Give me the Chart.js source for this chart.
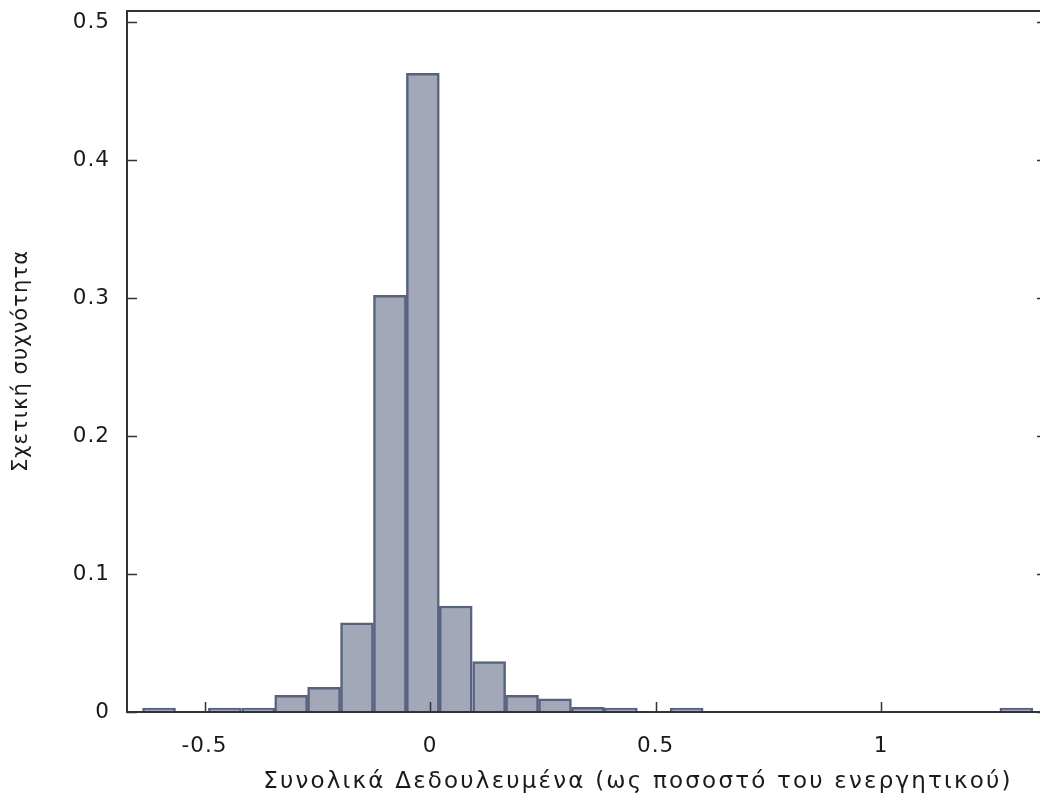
<!DOCTYPE html>
<html>
<head>
<meta charset="utf-8">
<script src="https://cdn.jsdelivr.net/npm/chart.js@4.4.1/dist/chart.umd.min.js"></script>
<style>
  html, body { margin: 0; padding: 0; background: #fff; overflow: hidden; }
  #wrap { width: 1048px; height: 802px; }
</style>
</head>
<body>
<div id="wrap"><canvas id="histChart" width="1048" height="802"></canvas></div>
<script>
// κέντρα κλάσεων (bin centers) και σχετικές συχνότητες
const binCenters = [-0.601, -0.528, -0.455, -0.381, -0.308, -0.235, -0.162, -0.089, -0.016,
    0.057, 0.131, 0.204, 0.277, 0.350, 0.423, 0.496, 0.569, 0.642, 0.715, 0.788, 0.862,
    0.935, 1.008, 1.081, 1.154, 1.227, 1.300];
const relFreq = [0.0028, 0, 0.0028, 0.0028, 0.0121, 0.0179, 0.0647, 0.302, 0.4628,
    0.0768, 0.0365, 0.0121, 0.0096, 0.0033, 0.0028, 0, 0.0028, 0, 0, 0, 0,
    0, 0, 0, 0, 0, 0.0028];
const xTicks = [-0.5, 0, 0.5, 1];
const yTicks = [0, 0.1, 0.2, 0.3, 0.4, 0.5];
const xTitle = 'Συνολικά Δεδουλευμένα (ως ποσοστό του ενεργητικού)';
const yTitle = 'Σχετική συχνότητα';

const FONT = 'DejaVu Sans, Verdana, sans-serif';
Chart.defaults.font.family = FONT;
Chart.defaults.color = '#1a1a1a';

// πλαίσιο, εσωτερικές υποδιαιρέσεις και τίτλοι αξόνων (gnuplot style)
const frameTicks = {
    id: 'frameTicks',
    beforeDraw(chart) {
        chart.ctx.letterSpacing = '1px';
    },
    afterDatasetsDraw(chart) {
        const { ctx, chartArea: a, scales } = chart;
        const len = 10;
        ctx.save();
        ctx.strokeStyle = '#333';
        ctx.lineWidth = 1.5;
        ctx.beginPath();
        yTicks.forEach(v => {
            const y = Math.round(scales.y.getPixelForValue(v)) + 0.5;
            ctx.moveTo(a.left, y); ctx.lineTo(a.left + len, y);
            ctx.moveTo(a.right, y); ctx.lineTo(a.right - len, y);
        });
        xTicks.forEach(v => {
            const x = Math.round(scales.x.getPixelForValue(v)) + 0.5;
            ctx.moveTo(x, a.bottom); ctx.lineTo(x, a.bottom - len);
        });
        ctx.stroke();
        ctx.lineWidth = 2;
        ctx.strokeRect(a.left, a.top, a.right - a.left, a.bottom - a.top);
        ctx.restore();
    },
    afterDraw(chart) {
        const ctx = chart.ctx;
        ctx.save();
        ctx.fillStyle = '#1a1a1a';
        ctx.textAlign = 'center';
        ctx.textBaseline = 'middle';
        ctx.font = '23px ' + FONT;
        ctx.letterSpacing = '2.2px';
        ctx.fillText(xTitle, 638, 782);
        ctx.font = '21px ' + FONT;
        ctx.letterSpacing = '1.1px';
        ctx.translate(22, 361);
        ctx.rotate(-Math.PI / 2);
        ctx.fillText(yTitle, 0, 0);
        ctx.restore();
        ctx.letterSpacing = '0px';
    }
};

const histChart = new Chart(document.getElementById('histChart'), {
    type: 'bar',
    data: {
        datasets: [{
            data: binCenters.map((c, i) => ({ x: c, y: relFreq[i] })),
            backgroundColor: '#a2a8b7',
            borderColor: '#57627f',
            borderWidth: ctx => (ctx.raw && ctx.raw.y > 0 ? 2.5 : 0),
            barPercentage: 1,
            categoryPercentage: 1
        }]
    },
    options: {
        responsive: false,
        animation: false,
        layout: { padding: { top: 11, right: 1, left: 0, bottom: 0 } },
        plugins: {
            legend: { display: false },
            tooltip: { enabled: false }
        },
        scales: {
            x: {
                type: 'linear',
                min: -0.672,
                max: 1.368,
                offset: false,
                grid: { display: false, drawTicks: false },
                border: { display: false },
                afterBuildTicks: scale => { scale.ticks = xTicks.map(v => ({ value: v })); },
                afterFit: scale => {
                    scale.height = 90;
                    scale.paddingLeft = 0;
                    scale.paddingRight = 0;
                },
                ticks: {
                    padding: 22,
                    maxRotation: 0,
                    font: { size: 21.5 },
                    callback: v => String(v)
                }
            },
            y: {
                min: 0,
                max: 0.508,
                grid: { display: false, drawTicks: false },
                border: { display: false },
                afterBuildTicks: scale => { scale.ticks = yTicks.map(v => ({ value: v })); },
                afterFit: scale => {
                    scale.width = 127;
                    scale.paddingTop = 0;
                    scale.paddingBottom = 0;
                },
                ticks: {
                    padding: 17,
                    font: { size: 21.5 },
                    callback: v => String(v)
                }
            }
        }
    },
    plugins: [frameTicks]
});
</script>
</body>
</html>
